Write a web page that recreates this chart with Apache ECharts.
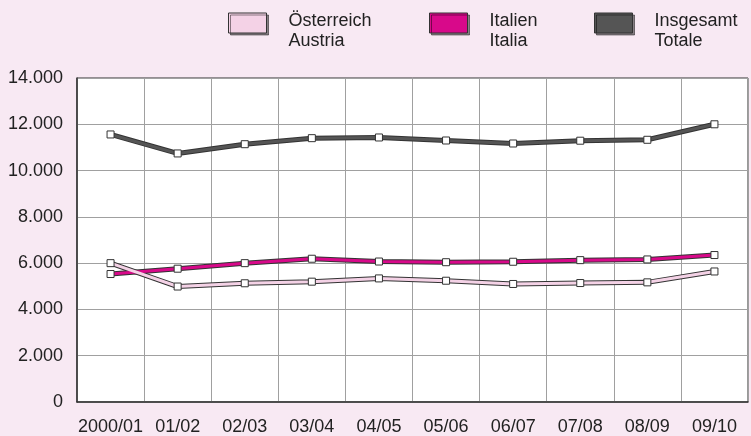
<!DOCTYPE html>
<html><head><meta charset="utf-8">
<script src="https://cdn.jsdelivr.net/npm/echarts@6/dist/echarts.min.js"></script>
<style>html,body{margin:0;padding:0;background:#f8e9f3;}#c{width:751px;height:436px;}</style>
</head><body><div id="c"></div>
<script>
const categories = ['2000/01','01/02','02/03','03/04','04/05','05/06','06/07','07/08','08/09','09/10'];
const austria = [6000,4990,5130,5200,5340,5240,5100,5140,5170,5640];
const italia = [5530,5760,6000,6190,6070,6040,6060,6130,6160,6350];
const totale = [11560,10740,11140,11400,11430,11300,11170,11290,11330,12000];
const names = ['Österreich\nAustria','Italien\nItalia','Insgesamt\nTotale'];
const colors = ['#f4d2e6','#d8098a','#555555'];
const dataSets = [austria, italia, totale];
const legendLeft = [228, 429, 594];

const font = 'Liberation Sans, Arial, sans-serif';
const chart = echarts.init(document.getElementById('c'));

const series = [];
// draw order: Totale, Italia, Austria (Austria on top)
[2,1,0].forEach(i => {
  series.push({
    name: 'under' + i, type: 'line', data: dataSets[i], showSymbol: false, silent: true,
    lineStyle: {color: '#333333', width: 5}, z: 2, animation: false
  });
  series.push({
    name: names[i], type: 'line', data: dataSets[i],
    symbol: 'rect', symbolSize: 7, z: 3, animation: false,
    itemStyle: {color: '#ffffff', borderColor: '#333333', borderWidth: 1},
    lineStyle: {color: colors[i], width: 3}
  });
});

const legends = names.map((n, i) => ({
  data: [{name: n, icon: 'rect', itemStyle: {color: colors[i], borderColor: '#333333', borderWidth: 1,
    shadowColor: 'rgba(0,0,0,0.45)', shadowOffsetX: 2, shadowOffsetY: 2, shadowBlur: 0}}],
  left: legendLeft[i], top: -5, padding: 0, itemWidth: 38, itemHeight: 20,
  selectedMode: false,
  formatter: name => '{s|}\n' + name.split('\n').map(t => '{a|' + t + '}').join('\n'),
  textStyle: {fontFamily: font, fontSize: 18, color: '#222', padding: [0,0,0,17],
    rich: {
      s: {height: 16, lineHeight: 16, fontSize: 10},
      a: {fontFamily: font, fontSize: 18, color: '#222', lineHeight: 20, height: 20}
    }}
}));

chart.setOption({
  backgroundColor: '#f8e9f3',
  animation: false,
  legend: legends,
  grid: {left: 77, right: 3, top: 78, bottom: 33, show: true, backgroundColor: '#ffffff',
    borderColor: '#333333', borderWidth: 1},
  xAxis: {
    type: 'category', data: categories, boundaryGap: true,
    axisLine: {lineStyle: {color: '#333', width: 1.5}},
    axisTick: {show: false},
    axisLabel: {fontFamily: font, fontSize: 18, color: '#222', margin: 16, interval: 0},
    splitLine: {show: true, interval: 0, lineStyle: {color: '#a0a0a0', width: 1}}
  },
  yAxis: {
    type: 'value', min: 0, max: 14000, interval: 2000,
    axisLine: {show: true, lineStyle: {color: '#333', width: 1.5}},
    axisTick: {show: false},
    axisLabel: {fontFamily: font, fontSize: 18, color: '#222', margin: 14,
      formatter: v => v === 0 ? '0' : (v/1000).toFixed(0) + '.000'},
    splitLine: {show: true, lineStyle: {color: '#a0a0a0', width: 1}}
  },
  series: series
});
</script></body></html>
